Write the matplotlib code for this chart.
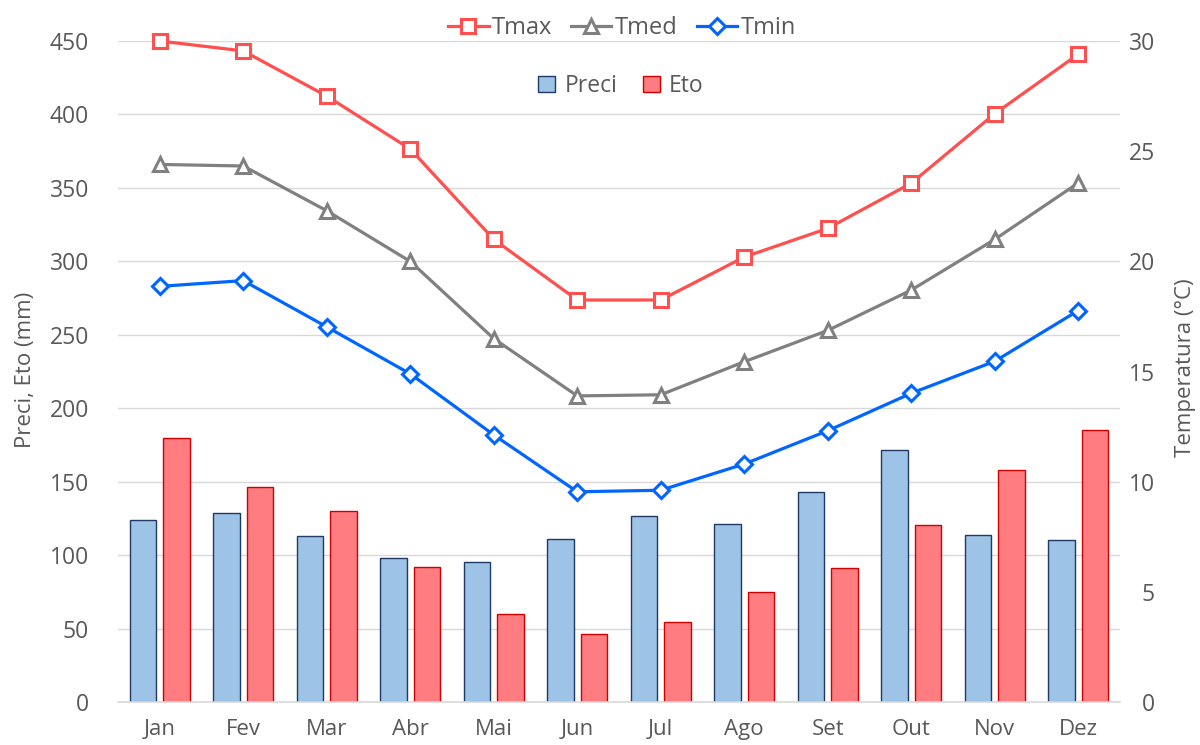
import matplotlib.pyplot as plt
import numpy as np

plt.rcParams['font.family'] = ['Open Sans', 'DejaVu Sans']

months = ['Jan', 'Fev', 'Mar', 'Abr', 'Mai', 'Jun', 'Jul', 'Ago', 'Set', 'Out', 'Nov', 'Dez']
preci = [124, 129, 113, 98.5, 95.6, 111, 127, 121, 143, 172, 114, 110.5]
eto = [180, 146.7, 130.4, 92, 60, 46.8, 54.7, 75.3, 91.3, 120.5, 158, 185.5]
tmax = [30.0, 29.55, 27.5, 25.1, 21.0, 18.25, 18.25, 20.2, 21.5, 23.55, 26.7, 29.4]
tmed = [24.4, 24.33, 22.3, 20.0, 16.5, 13.9, 13.95, 15.45, 16.87, 18.7, 21.0, 23.56]
tmin = [18.87, 19.13, 17.03, 14.9, 12.13, 9.55, 9.62, 10.81, 12.32, 14.02, 15.47, 17.77]

txt = '#595959'
x = np.arange(len(months))

fig = plt.figure(figsize=(12, 7.45), dpi=100)
ax = fig.add_axes([118 / 1200, 1 - 702.3 / 745, 1002 / 1200, 661.3 / 745])

ax.bar(x - 0.2, preci, 0.32, color='#9DC3E6', edgecolor='#203864', linewidth=1, label='Preci')
ax.bar(x + 0.2, eto, 0.32, color='#FF7C80', edgecolor='#D00000', linewidth=1, label='Eto')
ax.set_xlim(-0.5, 11.5)
ax.set_ylim(0, 450)
ax.set_yticks(np.arange(0, 451, 50))
ax.set_xticks(x)
ax.set_xticklabels(months)
ax.grid(axis='y', color='#D9D9D9', linewidth=1)
ax.set_axisbelow(True)
for s in ['top', 'left', 'right']:
    ax.spines[s].set_visible(False)
ax.spines['bottom'].set_color('#D9D9D9')
ax.spines['bottom'].set_linewidth(1.2)
ax.tick_params(axis='x', length=0, pad=12, labelsize=16, colors=txt)
ax.tick_params(axis='y', length=0, pad=21, labelsize=16.5, colors=txt)

ax2 = ax.twinx()
ax2.set_ylim(0, 30)
ax2.set_yticks(np.arange(0, 31, 5))
for s in ax2.spines.values():
    s.set_visible(False)
ax2.tick_params(axis='y', length=0, pad=25, labelsize=16.5, colors=txt)
for lab in ax2.get_yticklabels():
    lab.set_horizontalalignment('right')

kw = dict(linewidth=2.3, markersize=10, markeredgewidth=2.2, markerfacecolor='white', clip_on=False)
l1, = ax2.plot(x, tmax, color='#FF4F4F', marker='s', label='Tmax', **kw)
l2, = ax2.plot(x, tmed, color='#808080', marker='^', label='Tmed', **kw)
l3, = ax2.plot(x, tmin, color='#0066FF', marker='D', label='Tmin',
               **{**kw, 'markersize': 8.5})

fig.text(26 / 1200, 1 - 370 / 745, 'Preci, Eto (mm)', rotation=90, ha='center', va='center',
         fontsize=16, color=txt)
fig.text(1185 / 1200, 1 - 368 / 745, 'Temperatura (°C)', rotation=90, ha='center', va='center',
         fontsize=16, color=txt)

leg1 = fig.legend(handles=[l1, l2, l3], loc='center', bbox_to_anchor=(622 / 1200, 1 - 28 / 745),
                  ncol=3, frameon=False, fontsize=17, handlelength=1.7, handletextpad=0.15,
                  columnspacing=0.8, labelcolor=txt)
h, lb = ax.get_legend_handles_labels()
leg2 = fig.legend(h, lb, loc='center', bbox_to_anchor=(621 / 1200, 1 - 86 / 745),
                  ncol=2, frameon=False, fontsize=16.5, handlelength=0.75, handleheight=0.75,
                  handletextpad=0.4, columnspacing=1.1, labelcolor=txt)

fig.savefig('out.png', dpi=100)
